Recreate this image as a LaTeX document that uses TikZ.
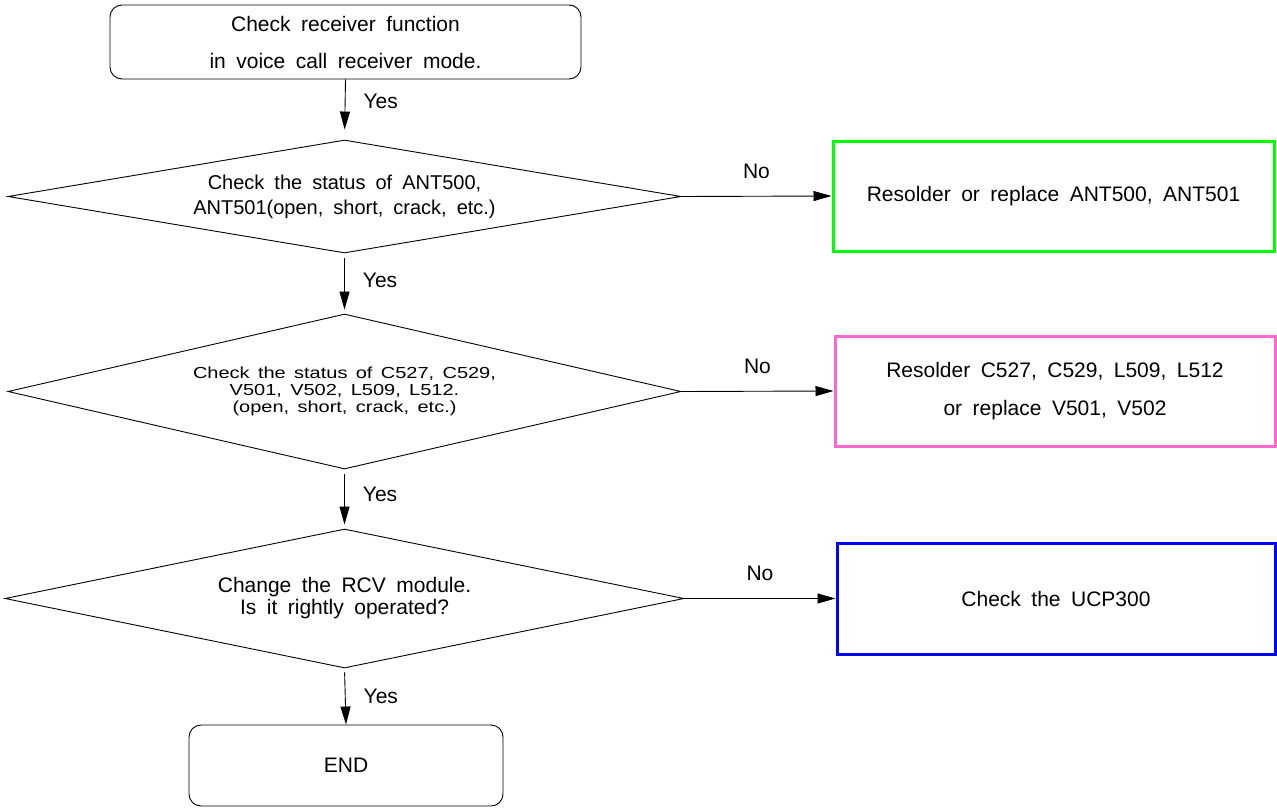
\documentclass[tikz,border=0pt]{standalone}
\usepackage{fontspec}
\setmainfont[WordSpace=1.8]{Liberation Sans}
\newfontfamily\widefont[FakeStretch=1.25,WordSpace=1.5]{Liberation Sans}
\usetikzlibrary{shapes.geometric,arrows.meta}

\definecolor{boxgreen}{RGB}{0,255,0}
\definecolor{boxpink}{RGB}{255,105,205}
\definecolor{boxblue}{RGB}{0,0,255}

\begin{document}
\begin{tikzpicture}[x=1pt,y=-1pt,
    every node/.style={inner sep=0pt,align=center,font=\fontsize{21}{25}\selectfont},
    endbox/.style={draw,line width=0.9pt,rounded corners=12pt},
    chk/.style={draw,diamond,line width=0.9pt},
    fixbox/.style={draw,line width=3pt,minimum width=440pt,minimum height=110pt},
    arr/.style={line width=0.9pt,-{Triangle[length=18pt,width=10pt]}}]

    \useasboundingbox (0,0) rectangle (1277,808);

    % Start and end boxes
    \node[endbox,minimum width=471pt,minimum height=74pt,font=\fontsize{21}{37}\selectfont]
        (start) at (345.5,42) {Check receiver function\\in voice call receiver mode.};
    \node[endbox,minimum width=314pt,minimum height=81pt] (finish) at (346,765.5) {END};

    % The three checks
    \node[chk,minimum width=673pt,minimum height=113pt,aspect=5.96,font=\fontsize{20}{25}\selectfont]
        (antchk) at (344.5,196.5)
        {Check the status of ANT500,\\ANT501(open, short, crack, etc.)};
    \node[chk,minimum width=673pt,minimum height=155pt,aspect=4.34,font=\widefont\fontsize{16}{17}\selectfont]
        (partchk) at (344.5,391.5)
        {Check the status of C527, C529,\\V501, V502, L509, L512.\\(open, short, crack, etc.)};
    \node[chk,minimum width=679pt,minimum height=139pt,aspect=4.88,font=\fontsize{21}{22}\selectfont]
        (rcvchk) at (344.5,598.5) {Change the RCV module.\\Is it rightly operated?};

    % Repair boxes
    \node[fixbox,draw=boxgreen,minimum width=441pt] (antfix) at (1053.5,196)
        {Resolder or replace ANT500, ANT501};
    \node[fixbox,draw=boxpink,font=\fontsize{21}{38}\selectfont] (partfix) at (1055,391)
        {Resolder C527, C529, L509, L512\\or replace V501, V502};
    \node[fixbox,draw=boxblue,minimum width=438pt,minimum height=111pt] (ucpfix) at (1056,598.5)
        {Check the UCP300};

    % Yes arrows
    \draw[arr,shorten >=10pt] (start.south) -- node[pos=0.36,anchor=west,xshift=18pt] {Yes} (antchk.north);
    \draw[arr,shorten <=5pt,shorten >=4pt] (antchk.south) -- node[pos=0.44,anchor=west,xshift=18pt] {Yes} (partchk.north);
    \draw[arr,shorten <=5pt,shorten >=4pt] (partchk.south) -- node[pos=0.42,anchor=west,xshift=18pt] {Yes} (rcvchk.north);
    \draw[arr,shorten <=4pt] (rcvchk.south) -- node[pos=0.5,anchor=west,xshift=18pt] {Yes} (finish.north);

    % No arrows
    \draw[arr] (antchk.east) -- node[anchor=south,yshift=17pt] {No} (antfix.west);
    \draw[arr] (partchk.east) -- node[anchor=south,yshift=17pt] {No} (partfix.west);
    \draw[arr] (rcvchk.east) -- node[anchor=south,yshift=17pt] {No} (ucpfix.west);

\end{tikzpicture}
\end{document}
